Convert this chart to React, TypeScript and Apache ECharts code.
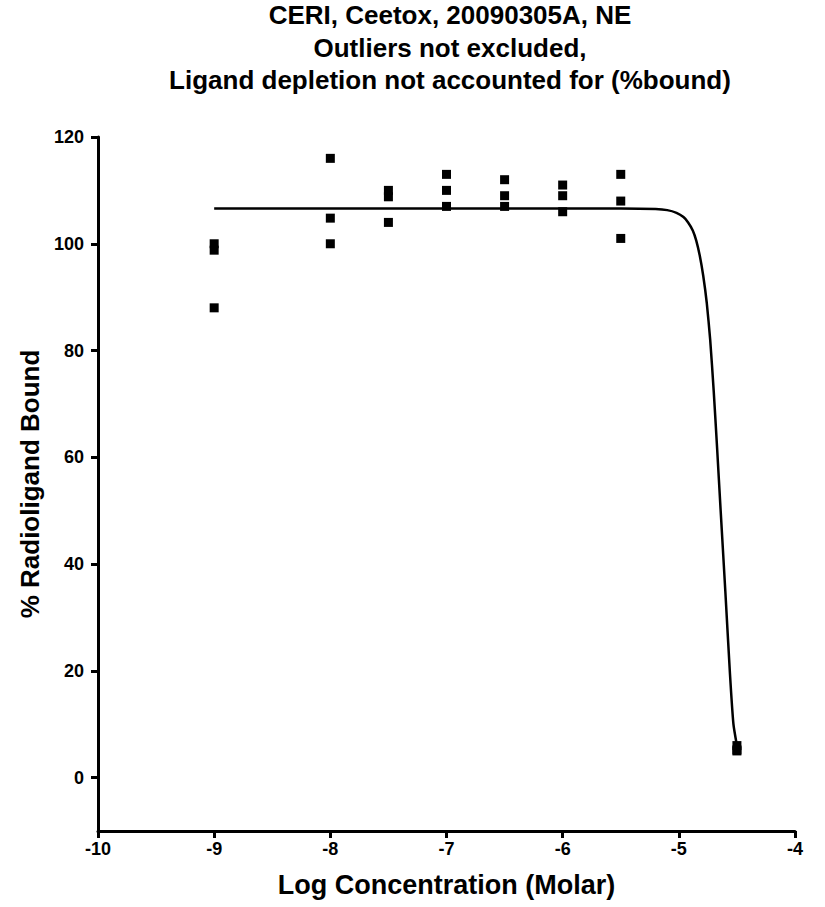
import React, { useEffect, useRef } from "react";
import * as echarts from "echarts";

const titleLines = [
  "CERI, Ceetox, 20090305A, NE",
  "Outliers not excluded,",
  "Ligand depletion not accounted for (%bound)",
];
const xAxisName = "Log Concentration (Molar)";
const yAxisName = "% Radioligand Bound";
const yTickValues = [0, 20, 40, 60, 80, 100, 120];

// Replicate measurements: log concentration and % bound
const pointsX = [-9, -9, -9, -8, -8, -8, -7.5, -7.5, -7.5, -7, -7, -7, -6.5, -6.5, -6.5, -6, -6, -6, -5.5, -5.5, -5.5, -4.5, -4.5, -4.5];
const pointsY = [100, 98.8, 88, 116, 104.8, 100, 110, 108.8, 104, 113, 110, 107, 112, 109, 107, 111, 109, 106, 113, 108, 101, 6, 5.2, 5];

// Fitted curve
const curveX = [-9, -8, -7, -6, -5.5, -5.2, -5.1, -5.02, -4.96, -4.92, -4.88, -4.85, -4.82, -4.79, -4.76, -4.73, -4.7, -4.67, -4.64, -4.6, -4.56, -4.53, -4.5];
const curveY = [106.6, 106.6, 106.6, 106.6, 106.6, 106.5, 106.3, 105.8, 105, 104, 102.5, 100.6, 97.8, 94, 89, 82, 72.5, 61.5, 50, 35, 19.5, 10, 6];

export default function App() {
  const ref = useRef<HTMLDivElement>(null);
  useEffect(() => {
    if (!ref.current) return;
    const chart = echarts.init(ref.current, undefined, { renderer: "svg" });
    const font = "'Liberation Sans', Arial, sans-serif";
    chart.setOption({
      animation: false,
      backgroundColor: "#ffffff",
      title: {
        text: titleLines.join("\n"),
        left: 450,
        top: -1,
        padding: 0,
        textAlign: "center",
        textStyle: {
          fontFamily: font,
          fontWeight: "bold",
          fontSize: 26,
          lineHeight: 32.5,
          color: "#000",
        },
      },
      grid: { left: 98, right: 30, top: 137, bottom: 76, containLabel: false },
      xAxis: {
        type: "value",
        min: -10,
        max: -4,
        interval: 1,
        name: xAxisName,
        nameLocation: "middle",
        nameGap: 40,
        nameTextStyle: { fontFamily: font, fontWeight: "bold", fontSize: 27, color: "#000" },
        axisLine: { onZero: false, lineStyle: { color: "#000", width: 3 } },
        axisTick: { length: 7, lineStyle: { color: "#000", width: 3 } },
        axisLabel: { fontFamily: font, fontWeight: "bold", fontSize: 18, color: "#000", margin: 9 },
        splitLine: { show: false },
      },
      yAxis: {
        type: "value",
        min: -10,
        max: 120,
        name: yAxisName,
        nameLocation: "middle",
        nameGap: 49,
        nameTextStyle: { fontFamily: font, fontWeight: "bold", fontSize: 26, color: "#000" },
        axisLine: { onZero: false, lineStyle: { color: "#000", width: 3 } },
        axisTick: { length: 7, lineStyle: { color: "#000", width: 3 }, customValues: yTickValues },
        axisLabel: { fontFamily: font, fontWeight: "bold", fontSize: 18, color: "#000", margin: 14, customValues: yTickValues },
        splitLine: { show: false },
      },
      series: [
        {
          type: "line",
          data: curveX.map((x, i) => [x, curveY[i]]),
          showSymbol: false,
          smooth: 0.2,
          lineStyle: { color: "#000", width: 2.5 },
          z: 2,
        },
        {
          type: "scatter",
          data: pointsX.map((x, i) => [x, pointsY[i]]),
          symbol: "rect",
          symbolSize: 9,
          itemStyle: { color: "#000", opacity: 1 },
          z: 3,
        },
      ],
    });
    return () => chart.dispose();
  }, []);
  return (
    <div
      ref={ref}
      style={{ position: "fixed", left: 0, top: 0, width: 825, height: 907, background: "#fff" }}
    />
  );
}
